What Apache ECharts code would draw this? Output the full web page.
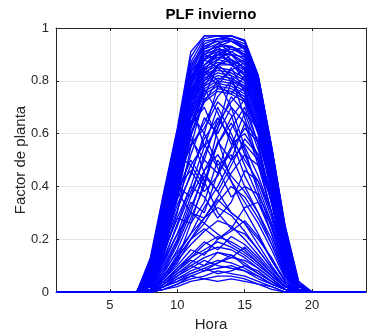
<!DOCTYPE html>
<html>
<head>
<meta charset="utf-8">
<script src="https://cdn.jsdelivr.net/npm/echarts@6/dist/echarts.min.js"></script>
<style>
html,body{margin:0;padding:0;background:#fff;}
#chart{width:367px;height:331px;}
</style>
</head>
<body>
<div id="chart"></div>
<script>
// Hours of the day (x axis)
const hours = [1,2,3,4,5,6,7,8,9,10,11,12,13,14,15,16,17,18,19,20,21,22,23,24];
// Hours with non-zero production (values below are given for these hours; all others are 0)
const sunHours = [8,9,10,11,12,13,14,15,16,17,18,19];
const yTicks = [0, 0.2, 0.4, 0.6, 0.8, 1];

// Clear days (plant factor for hours 8..19)
const clearDays = [
  [0.13,0.38,0.62,0.91,0.97,0.97,0.97,0.955,0.82,0.55,0.25,0.04],
  [0.12,0.37,0.61,0.89,0.97,0.97,0.96,0.94,0.81,0.54,0.24,0.03],
  [0.11,0.36,0.60,0.87,0.96,0.97,0.97,0.95,0.82,0.55,0.24,0.03],
  [0.10,0.35,0.59,0.85,0.95,0.96,0.96,0.93,0.80,0.53,0.23,0.02],
  [0.10,0.34,0.58,0.84,0.94,0.96,0.95,0.92,0.80,0.54,0.24,0.03],
  [0.09,0.33,0.57,0.83,0.93,0.95,0.95,0.92,0.79,0.52,0.22,0.02],
  [0.08,0.32,0.56,0.81,0.92,0.94,0.93,0.90,0.78,0.52,0.23,0.02],
  [0.08,0.31,0.55,0.80,0.91,0.93,0.93,0.89,0.77,0.51,0.21,0.01],
  [0.07,0.30,0.54,0.79,0.90,0.92,0.91,0.88,0.76,0.50,0.22,0.02],
  [0.07,0.29,0.53,0.78,0.89,0.91,0.90,0.87,0.75,0.50,0.20,0.01],
  [0.06,0.28,0.52,0.76,0.88,0.90,0.90,0.86,0.74,0.49,0.21,0.01],
  [0.06,0.27,0.51,0.75,0.86,0.89,0.88,0.85,0.73,0.48,0.19,0.01],
  [0.05,0.26,0.50,0.74,0.85,0.88,0.87,0.84,0.72,0.47,0.20,0.01],
  [0.05,0.25,0.49,0.73,0.84,0.87,0.86,0.83,0.71,0.47,0.18,0],
  [0.04,0.24,0.48,0.72,0.83,0.86,0.86,0.82,0.70,0.46,0.19,0.01],
  [0.04,0.23,0.46,0.70,0.82,0.85,0.84,0.81,0.69,0.45,0.17,0],
  [0.03,0.22,0.45,0.69,0.81,0.84,0.83,0.80,0.68,0.44,0.16,0],
  [0.03,0.21,0.44,0.68,0.80,0.83,0.82,0.79,0.67,0.44,0.17,0],
  [0.02,0.20,0.43,0.67,0.79,0.82,0.81,0.78,0.66,0.43,0.15,0],
  [0.02,0.19,0.42,0.66,0.78,0.81,0.80,0.77,0.65,0.42,0.16,0],
  [0.02,0.18,0.41,0.64,0.77,0.80,0.79,0.76,0.64,0.41,0.14,0],
  [0.01,0.17,0.40,0.63,0.76,0.79,0.78,0.75,0.63,0.40,0.15,0],
  [0.01,0.16,0.38,0.62,0.75,0.78,0.77,0.74,0.62,0.39,0.13,0],
  [0.01,0.15,0.37,0.60,0.73,0.77,0.76,0.73,0.61,0.38,0.14,0],
  [0,0.14,0.36,0.59,0.72,0.76,0.75,0.72,0.60,0.37,0.12,0]
];

// Mostly clear days with small disturbances
const hazyDays = [
  [0.12,0.36,0.60,0.86,0.93,0.95,0.90,0.84,0.70,0.45,0.18,0.01],
  [0.06,0.27,0.52,0.80,0.92,0.96,0.97,0.95,0.82,0.55,0.25,0.04],
  [0.09,0.33,0.56,0.79,0.90,0.88,0.91,0.93,0.80,0.53,0.23,0.02],
  [0.11,0.35,0.58,0.82,0.88,0.92,0.86,0.88,0.76,0.50,0.20,0.01],
  [0.04,0.22,0.47,0.74,0.88,0.93,0.95,0.93,0.81,0.54,0.24,0.03],
  [0.10,0.34,0.57,0.80,0.85,0.80,0.84,0.87,0.75,0.49,0.19,0.01],
  [0.08,0.30,0.54,0.77,0.86,0.90,0.87,0.80,0.68,0.44,0.16,0],
  [0.03,0.20,0.44,0.70,0.84,0.90,0.92,0.90,0.79,0.53,0.23,0.02],
  [0.12,0.37,0.59,0.83,0.90,0.94,0.96,0.92,0.78,0.50,0.21,0.02],
  [0.05,0.24,0.48,0.72,0.80,0.86,0.90,0.89,0.77,0.52,0.22,0.02],
  [0.09,0.32,0.55,0.78,0.88,0.85,0.80,0.78,0.70,0.48,0.20,0.01],
  [0.07,0.28,0.51,0.74,0.82,0.88,0.93,0.91,0.78,0.51,0.21,0.02],
  [0.10,0.33,0.56,0.76,0.84,0.78,0.75,0.82,0.72,0.47,0.18,0.01],
  [0.02,0.18,0.40,0.62,0.78,0.86,0.88,0.85,0.74,0.49,0.19,0.01],
  [0.11,0.34,0.58,0.81,0.91,0.93,0.88,0.82,0.66,0.42,0.15,0],
  [0.06,0.26,0.50,0.73,0.86,0.91,0.93,0.90,0.76,0.49,0.20,0.01]
];

// Partly cloudy days
const partlyDays = [
  [0.11,0.35,0.57,0.72,0.55,0.62,0.80,0.85,0.72,0.47,0.19,0.01],
  [0.09,0.31,0.52,0.48,0.40,0.57,0.50,0.64,0.58,0.42,0.17,0],
  [0.03,0.14,0.30,0.55,0.74,0.86,0.82,0.66,0.50,0.30,0.10,0],
  [0.02,0.11,0.22,0.36,0.52,0.64,0.72,0.78,0.69,0.46,0.18,0.01],
  [0.07,0.26,0.46,0.63,0.70,0.58,0.42,0.31,0.22,0.12,0.04,0],
  [0,0.05,0.12,0.26,0.42,0.56,0.66,0.73,0.63,0.41,0.15,0],
  [0.05,0.22,0.41,0.56,0.62,0.72,0.67,0.52,0.40,0.26,0.08,0],
  [0.10,0.32,0.50,0.66,0.77,0.68,0.56,0.60,0.52,0.34,0.13,0],
  [0.04,0.18,0.33,0.44,0.60,0.78,0.85,0.76,0.60,0.38,0.14,0],
  [0.06,0.24,0.38,0.30,0.28,0.36,0.45,0.52,0.48,0.35,0.14,0],
  [0.02,0.10,0.20,0.34,0.30,0.45,0.62,0.70,0.56,0.33,0.11,0],
  [0.08,0.29,0.48,0.60,0.45,0.38,0.30,0.26,0.18,0.10,0.03,0],
  [0.01,0.08,0.18,0.30,0.46,0.52,0.44,0.38,0.30,0.20,0.06,0],
  [0.05,0.20,0.36,0.52,0.66,0.60,0.70,0.64,0.48,0.30,0.10,0],
  [0.03,0.15,0.28,0.40,0.36,0.28,0.34,0.46,0.42,0.30,0.12,0],
  [0.07,0.25,0.42,0.58,0.50,0.66,0.58,0.44,0.34,0.22,0.07,0],
  [0,0.06,0.14,0.22,0.32,0.40,0.50,0.56,0.50,0.34,0.12,0],
  [0.04,0.19,0.35,0.48,0.56,0.47,0.36,0.40,0.37,0.26,0.09,0],
  [0.02,0.12,0.26,0.40,0.55,0.70,0.60,0.48,0.36,0.22,0.07,0],
  [0.06,0.23,0.40,0.46,0.38,0.44,0.54,0.62,0.57,0.40,0.16,0.01],
  [0.08,0.28,0.47,0.64,0.72,0.80,0.70,0.55,0.44,0.30,0.11,0],
  [0.03,0.13,0.25,0.38,0.50,0.45,0.55,0.68,0.62,0.44,0.17,0.01],
  [0.10,0.33,0.53,0.68,0.60,0.48,0.52,0.40,0.30,0.18,0.06,0],
  [0.01,0.07,0.16,0.28,0.40,0.62,0.74,0.68,0.54,0.36,0.13,0],
  [0.05,0.21,0.38,0.50,0.42,0.30,0.24,0.32,0.34,0.25,0.09,0],
  [0.04,0.17,0.31,0.45,0.58,0.66,0.58,0.50,0.42,0.28,0.10,0],
  [0.02,0.09,0.19,0.32,0.44,0.38,0.48,0.58,0.52,0.37,0.14,0],
  [0.06,0.24,0.40,0.36,0.46,0.56,0.64,0.54,0.38,0.24,0.08,0],
  [0.03,0.12,0.22,0.30,0.26,0.34,0.40,0.36,0.28,0.18,0.06,0],
  [0.07,0.27,0.44,0.55,0.64,0.74,0.80,0.72,0.56,0.35,0.12,0],
  [0.01,0.06,0.13,0.20,0.28,0.35,0.30,0.26,0.20,0.13,0.04,0],
  [0.04,0.16,0.28,0.26,0.34,0.50,0.42,0.34,0.26,0.16,0.05,0]
];

// Overcast days
const cloudyDays = [
  [0,0.02,0.05,0.08,0.10,0.12,0.11,0.09,0.06,0.03,0.01,0],
  [0,0.03,0.07,0.11,0.15,0.17,0.16,0.13,0.09,0.05,0.01,0],
  [0,0.01,0.03,0.05,0.06,0.08,0.07,0.06,0.04,0.02,0,0],
  [0,0.04,0.09,0.13,0.18,0.21,0.19,0.16,0.11,0.06,0.02,0],
  [0.01,0.05,0.10,0.16,0.14,0.20,0.24,0.22,0.16,0.09,0.03,0],
  [0,0.02,0.04,0.07,0.09,0.11,0.13,0.12,0.09,0.05,0.01,0],
  [0,0.03,0.06,0.09,0.12,0.10,0.09,0.08,0.05,0.03,0.01,0],
  [0.01,0.06,0.12,0.18,0.23,0.27,0.25,0.20,0.14,0.08,0.02,0],
  [0,0.02,0.04,0.06,0.05,0.04,0.05,0.04,0.03,0.01,0,0],
  [0,0.03,0.08,0.12,0.10,0.15,0.13,0.17,0.12,0.07,0.02,0],
  [0.01,0.04,0.09,0.14,0.19,0.16,0.21,0.18,0.13,0.07,0.02,0],
  [0,0.01,0.02,0.04,0.05,0.06,0.06,0.05,0.03,0.02,0,0],
  [0.02,0.08,0.15,0.22,0.28,0.32,0.29,0.23,0.16,0.09,0.03,0],
  [0,0.02,0.06,0.10,0.13,0.15,0.14,0.11,0.07,0.04,0.01,0],
  [0.01,0.05,0.11,0.20,0.26,0.22,0.18,0.15,0.11,0.06,0.02,0],
  [0,0.03,0.07,0.10,0.08,0.11,0.14,0.10,0.07,0.04,0.01,0],
  [0.01,0.04,0.08,0.13,0.16,0.19,0.17,0.14,0.10,0.06,0.02,0],
  [0,0.02,0.05,0.07,0.09,0.07,0.08,0.10,0.08,0.04,0.01,0],
  [0.01,0.06,0.13,0.20,0.24,0.20,0.23,0.27,0.21,0.12,0.04,0],
  [0,0.01,0.03,0.06,0.08,0.09,0.10,0.08,0.06,0.03,0.01,0]
];

const allDays = clearDays.concat(hazyDays, partlyDays, cloudyDays);

function fullDay(row) {
  return hours.map(function (h) {
    const i = sunHours.indexOf(h);
    return [h, i >= 0 ? row[i] : 0];
  });
}

const axisColor = '#262626';
const font = 'Liberation Sans, Arial, Helvetica, sans-serif';

const series = allDays.map(function (row) {
  return {
    type: 'line',
    data: fullDay(row),
    showSymbol: false,
    symbol: 'none',
    clip: false,
    silent: true,
    lineStyle: { color: '#0000ff', width: 1.3 },
    xAxisIndex: 0,
    yAxisIndex: 0
  };
});

const chart = echarts.init(document.getElementById('chart'), null, { renderer: 'canvas' });
chart.setOption({
  animation: false,
  backgroundColor: '#ffffff',
  title: {
    text: 'PLF invierno',
    left: 211,
    top: 7,
    padding: 0,
    textAlign: 'center',
    textStyle: { fontFamily: font, fontSize: 15, fontWeight: 'bold', color: '#000' }
  },
  grid: { left: 56, right: 1, top: 28, bottom: 39, containLabel: false, outerBoundsMode: 'none' },
  xAxis: [
    {
      type: 'value', min: 1, max: 24, splitNumber: 5, position: 'bottom',
      name: 'Hora', nameLocation: 'middle', nameGap: 25,
      nameTextStyle: { fontFamily: font, fontSize: 15, color: axisColor },
      axisLine: { show: true, onZero: false, lineStyle: { color: axisColor, width: 1 } },
      axisTick: { show: true, inside: true, length: 3, lineStyle: { color: axisColor } },
      axisLabel: { show: true, margin: 7, fontFamily: font, fontSize: 13, color: axisColor, showMinLabel: false, showMaxLabel: false },
      splitLine: { show: true, lineStyle: { color: '#e5e5e5', width: 1 } }
    },
    {
      type: 'value', min: 1, max: 24, splitNumber: 5, position: 'top',
      axisLine: { show: true, onZero: false, lineStyle: { color: axisColor, width: 1 } },
      axisTick: { show: true, inside: true, length: 3, lineStyle: { color: axisColor } },
      axisLabel: { show: false },
      splitLine: { show: false }
    }
  ],
  yAxis: [
    {
      type: 'value', min: yTicks[0], max: yTicks[yTicks.length - 1], interval: 0.2, position: 'left',
      name: 'Factor de planta', nameLocation: 'middle', nameGap: 28, nameMoveOverlap: false,
      nameTextStyle: { fontFamily: font, fontSize: 15, color: axisColor },
      axisLine: { show: true, onZero: false, lineStyle: { color: axisColor, width: 1 } },
      axisTick: { show: true, inside: true, length: 3, lineStyle: { color: axisColor } },
      axisLabel: { show: true, margin: 7, fontFamily: font, fontSize: 13, color: axisColor },
      splitLine: { show: true, lineStyle: { color: '#e5e5e5', width: 1 } }
    },
    {
      type: 'value', min: yTicks[0], max: yTicks[yTicks.length - 1], interval: 0.2, position: 'right',
      axisLine: { show: true, onZero: false, lineStyle: { color: axisColor, width: 1 } },
      axisTick: { show: true, inside: true, length: 3, lineStyle: { color: axisColor } },
      axisLabel: { show: false },
      splitLine: { show: false }
    }
  ],
  series: series
});
</script>
</body>
</html>
